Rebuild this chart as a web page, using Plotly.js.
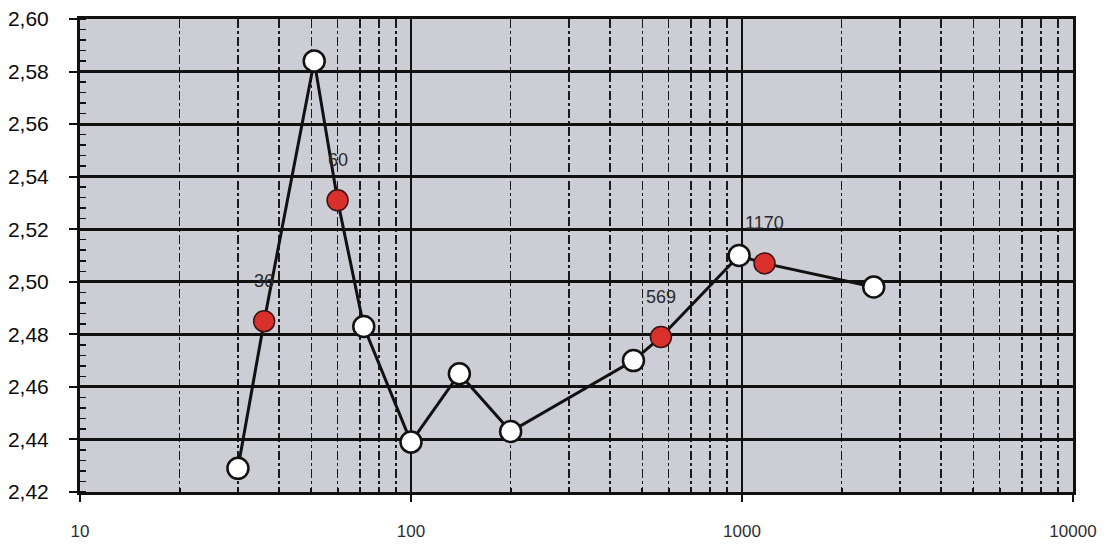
<!DOCTYPE html>
<html>
<head>
<meta charset="utf-8">
<script src="https://cdn.plot.ly/plotly-3.0.1.min.js"></script>
<style>
  html, body { margin: 0; padding: 0; background: #ffffff; }
  #chart { width: 1109px; height: 552px; }
</style>
</head>
<body>
<div id="chart"></div>
<script>
// Measured points, in order of frequency
const frequency = [30, 36, 51, 60, 72, 100, 140, 200, 470, 569, 980, 1170, 2500];
const value     = [2.429, 2.485, 2.584, 2.531, 2.483, 2.439, 2.465, 2.443, 2.470, 2.479, 2.510, 2.507, 2.498];

// Points that are highlighted and labelled with their frequency
const labelled = [36, 60, 569, 1170];

// Axis tick labels
const xTickValues = [10, 100, 1000, 10000];
const xTickText = ['10', '100', '1000', '10000'];

const isLabelled = frequency.map(f => labelled.includes(f));
const plainX = frequency.filter((f, i) => !isLabelled[i]);
const plainY = value.filter((v, i) => !isLabelled[i]);
const redX = frequency.filter((f, i) => isLabelled[i]);
const redY = value.filter((v, i) => isLabelled[i]);

const traces = [
  {
    x: frequency, y: value, type: 'scatter', mode: 'lines',
    line: { color: '#111111', width: 3 },
    hoverinfo: 'skip', showlegend: false
  },
  {
    x: plainX, y: plainY, type: 'scatter', mode: 'markers',
    marker: { size: 21, color: '#ffffff', line: { color: '#111111', width: 2.5 } },
    showlegend: false
  },
  {
    x: redX, y: redY, type: 'scatter', mode: 'markers',
    marker: { size: 21, color: '#d9302c', line: { color: '#3a1414', width: 1.5 } },
    showlegend: false
  }
];

const annotations = redX.map((f, i) => ({
  x: Math.log10(f), y: redY[i], xref: 'x', yref: 'y',
  text: String(f), showarrow: false, yshift: 40,
  font: { family: 'Liberation Sans, Arial, sans-serif', size: 18, color: '#2a2a2a' }
}));

const layout = {
  width: 1109, height: 552,
  margin: { l: 80, r: 36, t: 19, b: 60 },
  paper_bgcolor: '#ffffff',
  plot_bgcolor: '#cdcdd6',
  separators: ', ',
  showlegend: false,
  xaxis: {
    type: 'log', range: [1, 4],
    tickvals: xTickValues, ticktext: xTickText,
    ticks: 'outside', ticklen: 7, tickwidth: 2, tickcolor: '#111111',
    showline: true, linecolor: '#111111', linewidth: 3, mirror: true,
    showgrid: true, gridcolor: '#111111', gridwidth: 2.5,
    ticklabelstandoff: 15,
    tickfont: { family: 'Liberation Sans, Arial, sans-serif', size: 17, color: '#2e2e2e' },
    minor: {
      tickvals: [20, 30, 40, 50, 60, 70, 80, 90, 200, 300, 400, 500, 600, 700, 800, 900, 2000, 3000, 4000, 5000, 6000, 7000, 8000, 9000],
      showgrid: true, gridcolor: '#1a1a1a', gridwidth: 1.6, griddash: 'dashdot',
      ticks: 'inside', ticklen: 4, tickcolor: '#111111'
    },
    zeroline: false
  },
  yaxis: {
    range: [2.42, 2.60], dtick: 0.02, tick0: 2.42, tickformat: '.2f',
    ticks: 'outside', ticklen: 8, tickwidth: 2, tickcolor: '#111111',
    showline: true, linecolor: '#111111', linewidth: 3, mirror: true,
    showgrid: true, gridcolor: '#111111', gridwidth: 2.8,
    ticklabelstandoff: 16,
    tickfont: { family: 'Liberation Sans, Arial, sans-serif', size: 21, color: '#0a0a0a' },
    minor: { dtick: 0.004, ticks: 'inside', ticklen: 6, tickwidth: 1.5, tickcolor: '#111111', showgrid: false },
    zeroline: false
  },
  annotations: annotations
};

Plotly.newPlot('chart', traces, layout, { staticPlot: true, displayModeBar: false });
</script>
</body>
</html>
